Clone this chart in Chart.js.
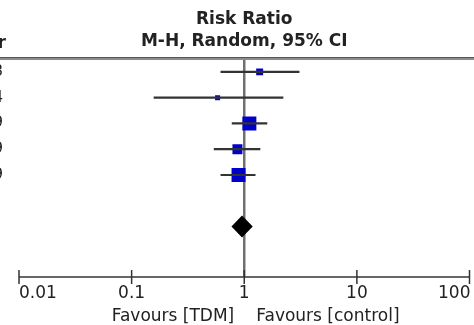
<!DOCTYPE html>
<html>
<head>
<meta charset="utf-8">
<script src="https://cdn.jsdelivr.net/npm/chart.js@4.4.1/dist/chart.umd.min.js"></script>
<style>
  html, body { margin: 0; padding: 0; background: #fff; }
</style>
</head>
<body>
<canvas id="forest" width="474" height="325"></canvas>
<script>
// study rows, top to bottom
const studyYears = ['2013', '2014', '2009', '2009', '2009'];
const riskRatio = [1.37, 0.58, 1.11, 0.87, 0.89];
const ciLower = [0.62, 0.158, 0.78, 0.54, 0.62];
const ciUpper = [3.07, 2.21, 1.59, 1.38, 1.25];
const weights = [8.6, 4.5, 34.7, 17.6, 34.6];

// pooled random-effects estimate: RR, lower, upper
const pooled = [0.955, 0.77, 1.19];
const pooledRow = 6;

const tickValues = [0.01, 0.1, 1, 10, 100];
const tickLabels = ['0.01', '0.1', '1', '10', '100'];

const FONT = '"DejaVu Sans", "Liberation Sans", sans-serif';
const TEXT = '#222';

const rows = studyYears.map((_, i) => i);

// square side proportional to sqrt(weight)
const pointRadii = weights.map(w => (2.38 * Math.sqrt(w)) / Math.SQRT2);

const forestDecor = {
    id: 'forestDecor',
    beforeDatasetsDraw(chart) {
        const { ctx, chartArea, scales: { x } } = chart;
        const x1 = x.getPixelForValue(1);
        ctx.save();
        // header rule
        ctx.strokeStyle = '#8c8c8c';
        ctx.lineWidth = 3;
        ctx.beginPath();
        ctx.moveTo(0, chartArea.top - 0.5);
        ctx.lineTo(chart.width, chartArea.top - 0.5);
        ctx.stroke();
        ctx.strokeStyle = '#555';
        ctx.lineWidth = 1;
        ctx.beginPath();
        ctx.moveTo(0, chartArea.top - 1.5);
        ctx.lineTo(chart.width, chartArea.top - 1.5);
        ctx.stroke();
        // line of no effect
        ctx.strokeStyle = '#707070';
        ctx.lineWidth = 2.5;
        ctx.beginPath();
        ctx.moveTo(x1, chartArea.top + 1);
        ctx.lineTo(x1, chartArea.bottom);
        ctx.stroke();
        ctx.restore();
    },
    afterDatasetsDraw(chart) {
        const { ctx, scales: { x, y } } = chart;
        const cy = y.getPixelForValue(pooledRow);
        const xc = x.getPixelForValue(pooled[0]);
        const xl = x.getPixelForValue(pooled[1]);
        const xr = x.getPixelForValue(pooled[2]);
        const h = 11;
        ctx.save();
        ctx.fillStyle = '#000';
        ctx.beginPath();
        ctx.moveTo(xl, cy);
        ctx.lineTo(xc, cy - h);
        ctx.lineTo(xr, cy);
        ctx.lineTo(xc, cy + h);
        ctx.closePath();
        ctx.fill();
        ctx.restore();
    },
    afterDraw(chart) {
        const { ctx, chartArea, scales: { x, y } } = chart;
        const axisY = chartArea.bottom;
        const x1 = x.getPixelForValue(1);
        const last = tickValues.length - 1;
        ctx.save();

        // x axis line and ticks
        ctx.strokeStyle = '#333';
        ctx.lineWidth = 1.5;
        ctx.beginPath();
        ctx.moveTo(x.getPixelForValue(tickValues[0]), axisY);
        ctx.lineTo(x.getPixelForValue(tickValues[last]), axisY);
        ctx.stroke();
        ctx.font = '17px ' + FONT;
        ctx.fillStyle = TEXT;
        ctx.textBaseline = 'middle';
        tickValues.forEach((v, i) => {
            const px = x.getPixelForValue(v);
            ctx.beginPath();
            ctx.moveTo(px, axisY - 7);
            ctx.lineTo(px, axisY + 7);
            ctx.stroke();
            // end labels sit inside the axis span
            ctx.textAlign = i === 0 ? 'left' : (i === last ? 'right' : 'center');
            ctx.fillText(tickLabels[i], i === last ? px + 1 : px, axisY + 17);
        });

        // favours labels
        ctx.textAlign = 'right';
        ctx.fillText('Favours [TDM]', x1 - 10, axisY + 40);
        ctx.textAlign = 'left';
        ctx.fillText('Favours [control]', x1 + 12, axisY + 40);

        // column heading
        ctx.font = 'bold 17px ' + FONT;
        ctx.textAlign = 'center';
        ctx.fillText('Risk Ratio', x1, 20);
        ctx.fillText('M-H, Random, 95% CI', x1, 42);

        // study year column (mostly outside the view on the left)
        ctx.textAlign = 'right';
        ctx.fillText('Year', 6, 44);
        ctx.font = '15px ' + FONT;
        studyYears.forEach((yr, i) => {
            ctx.fillText(yr, 3, y.getPixelForValue(i));
        });
        ctx.restore();
    }
};

new Chart(document.getElementById('forest'), {
    type: 'scatter',
    data: {
        datasets: [{
            type: 'bar',
            indexAxis: 'y',
            data: rows.map(i => ({ y: i, x: [ciLower[i], ciUpper[i]] })),
            backgroundColor: '#333',
            borderWidth: 0,
            barThickness: 1.5,
            xAxisID: 'x',
            yAxisID: 'y'
        }, {
            type: 'scatter',
            data: rows.map(i => ({ x: riskRatio[i], y: i })),
            pointStyle: 'rect',
            pointRadius: pointRadii,
            pointHoverRadius: pointRadii,
            backgroundColor: '#0000cc',
            borderWidth: 0,
            xAxisID: 'x',
            yAxisID: 'y'
        }]
    },
    options: {
        responsive: false,
        animation: false,
        events: [],
        layout: { autoPadding: false, padding: { left: 19, right: 4.5, top: 59, bottom: 48 } },
        plugins: {
            legend: { display: false },
            tooltip: { enabled: false },
            title: { display: false }
        },
        scales: {
            x: { type: 'logarithmic', min: 0.01, max: 100, display: false, offset: false },
            y: { type: 'linear', min: -0.5, max: 7.96, reverse: true, display: false, offset: false }
        }
    },
    plugins: [forestDecor]
});
</script>
</body>
</html>
